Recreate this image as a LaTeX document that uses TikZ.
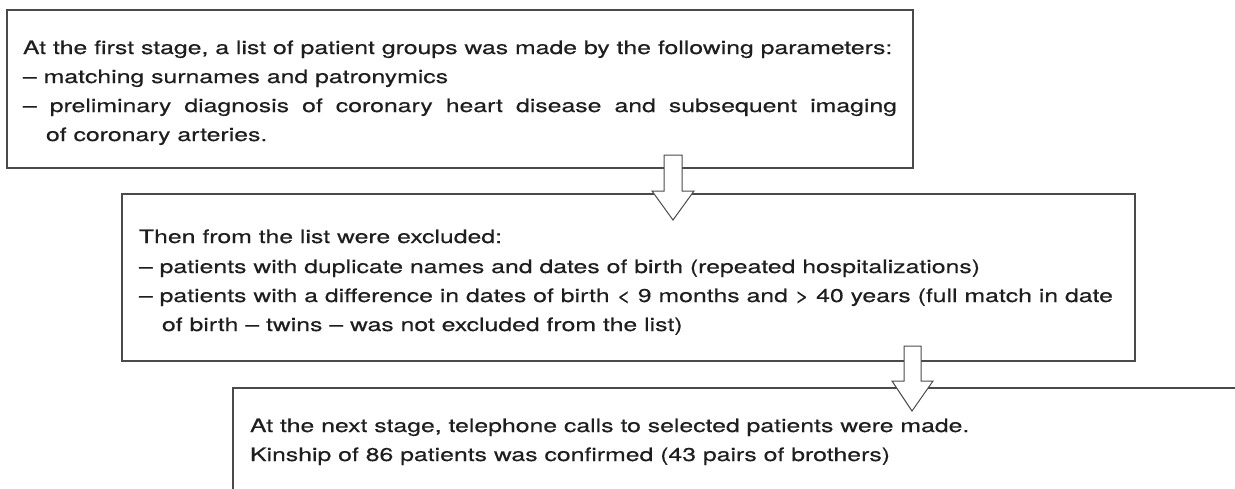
\documentclass[tikz,border=0pt]{standalone}
\usepackage{fontspec}
\setmainfont[FakeStretch=1.34,FakeBold=0.4]{TeX Gyre Heros}
\definecolor{boxline}{HTML}{4A4A4A}
\definecolor{txt}{HTML}{1E1E1E}
\tikzset{
  stagebox/.style={draw=boxline, line width=1.3pt, rectangle, inner sep=0pt, outer sep=0pt, anchor=north west, fill=none},
  textline/.style={anchor=base west, inner sep=0pt, outer sep=0pt, text=txt, font=\fontsize{18.5}{29}\selectfont},
  blockarrow/.style={draw=boxline, line width=1pt, fill=white, line join=miter}
}
\begin{document}
\begin{tikzpicture}[x=1pt,y=-1pt]
\clip (0,0) rectangle (1235,488);
\useasboundingbox (0,0) rectangle (1235,488);
% boxes
\node[stagebox, minimum width=906pt, minimum height=158pt] (box1) at (7,10) {};
\node[stagebox, minimum width=1013pt, minimum height=167pt] (box2) at (122,194) {};
\node[stagebox, minimum width=1100pt, minimum height=200pt] (box3) at (233,388) {};
% box 1 text
\node[textline] (b1l1) at (23,54) {At the first stage, a list of patient groups was made by the following parameters:};
\node[textline] (b1l2) at (23,83) {– matching surnames and patronymics};
\node[textline] (b1l3) at (23,112) {\makebox[874pt][s]{– preliminary diagnosis of coronary heart disease and subsequent imaging}};
\node[textline] (b1l4) at (46,141) {of coronary arteries.};
% box 2 text
\node[textline] (b2l1) at (139,243) {Then from the list were excluded:};
\node[textline] (b2l2) at (139,273) {– patients with duplicate names and dates of birth (repeated hospitalizations)};
\node[textline] (b2l3) at (139,302) {– patients with a difference in dates of birth < 9 months and > 40 years (full match in date};
\node[textline] (b2l4) at (162,331) {of birth – twins – was not excluded from the list)};
% box 3 text
\node[textline] (b3l1) at (250,432) {At the next stage, telephone calls to selected patients were made.};
\node[textline] (b3l2) at (250,461) {Kinship of 86 patients was confirmed (43 pairs of brothers)};
% block arrows
\draw[blockarrow] (664,155) -- (682,155) -- (682,191) -- (694,191) -- (673,220) -- (652,191) -- (664,191) -- cycle;
\draw[blockarrow] (904,346) -- (921,346) -- (921,381) -- (933,381) -- (912,411) -- (892,381) -- (904,381) -- cycle;
\end{tikzpicture}
\end{document}
